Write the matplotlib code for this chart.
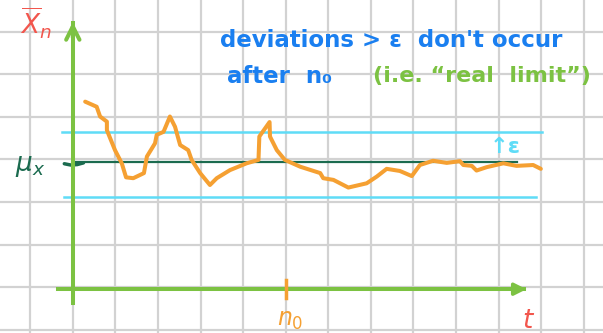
import matplotlib
matplotlib.use("Agg")
import matplotlib.pyplot as plt

# sketch data, in grid cells (one cell = one square of the paper)
t_vals = [0.29, 0.56, 0.64, 0.80, 0.80, 0.99, 1.15, 1.25, 1.42, 1.67, 1.74, 1.93,
          1.97, 2.13, 2.28, 2.40, 2.52, 2.71, 2.79, 2.99, 3.22, 3.38, 3.69, 4.08,
          4.36, 4.38, 4.62, 4.63, 4.79, 4.98, 5.34, 5.81, 5.88, 6.12, 6.47, 6.90,
          7.14, 7.37, 7.68, 7.96, 8.15, 8.46, 8.78, 9.09, 9.17, 9.37, 9.48, 9.72,
          10.11, 10.42, 10.81, 10.99]
xbar_vals = [4.36, 4.24, 4.01, 3.89, 3.69, 3.22, 2.91, 2.58, 2.56, 2.68, 3.07, 3.38,
             3.58, 3.65, 4.01, 3.77, 3.34, 3.22, 2.99, 2.68, 2.40, 2.56, 2.75, 2.91,
             2.99, 3.54, 3.88, 3.54, 3.22, 2.99, 2.83, 2.68, 2.56, 2.52, 2.34, 2.44,
             2.60, 2.78, 2.73, 2.61, 2.87, 2.97, 2.92, 2.96, 2.87, 2.85, 2.74, 2.82,
             2.91, 2.85, 2.87, 2.78]

mu = 2.95
eps_upper, eps_lower = 3.64, 2.11
n0 = 5.01

GREEN = "#7cc242"
CYAN = "#5fdcf7"
DARK = "#1b6b4f"
ORANGE = "#f5a032"
BLUE = "#1a7ff0"
RED = "#f2564d"

fig = plt.figure(figsize=(6.03, 3.33), dpi=100)
ax = fig.add_axes([0, 0, 1, 1])
ax.set_xlim(-1.71, 12.45)
ax.set_ylim(-1.08, 6.75)
ax.set_xticks(range(-1, 13))
ax.set_yticks(range(-1, 7))
ax.grid(True, color="#d2d2d2", lw=1.6)
ax.tick_params(length=0, labelbottom=False, labelleft=False)
for s in ax.spines.values():
    s.set_visible(False)

# epsilon band and limit
ax.plot([-0.25, 11.01], [eps_upper, eps_upper], color=CYAN, lw=1.8)
ax.plot([-0.20, 10.88], [eps_lower, eps_lower], color=CYAN, lw=1.8)
ax.plot([0, 10.42], [mu, mu], color=DARK, lw=1.6)
ax.plot([-0.2, -0.05, 0.1, 0.25], [2.90, 2.87, 2.88, 2.92], color=DARK, lw=2.5,
        solid_capstyle="round")

# axes arrows
ax.plot([0, 0], [-0.37, 6.2], color=GREEN, lw=2.9)
ax.plot([-0.35, 10.6], [-0.05, -0.05], color=GREEN, lw=2.9)
ax.annotate("", xy=(0, 6.3), xytext=(0, 5.8),
            arrowprops=dict(arrowstyle="->", color=GREEN, lw=2.9, mutation_scale=24))
ax.annotate("", xy=(10.72, -0.05), xytext=(10.3, -0.05),
            arrowprops=dict(arrowstyle="-|>", color=GREEN, lw=2.5, mutation_scale=18))

# sequence
ax.plot(t_vals, xbar_vals, color=ORANGE, lw=2.9, solid_joinstyle="round",
        solid_capstyle="round")
ax.plot([n0, n0], [-0.26, 0.16], color=ORANGE, lw=2.5)

# labels
ax.text(-0.87, 6.2, r"$\overline{X}_n$", color=RED, fontsize=19, ha="center", va="center")
ax.text(-1.0, 2.85, r"$\mu_x$", color=DARK, fontsize=19, ha="center", va="center")
ax.text(n0 + 0.1, -0.78, r"$n_0$", color=ORANGE, fontsize=17, ha="center", va="center")
ax.text(10.7, -0.8, r"$t$", color=RED, fontsize=19, ha="center", va="center")
ax.text(10.15, 3.3, "↑ε", color=CYAN, fontsize=16, fontweight="bold", ha="center", va="center")

ax.text(3.45, 5.8, "deviations > ε  don't occur", color=BLUE, fontsize=16.5,
        fontweight="bold", ha="left", va="center")
ax.text(3.62, 4.94, "after  n₀", color=BLUE, fontsize=16.5, fontweight="bold",
        ha="left", va="center")
ax.text(7.05, 4.97, "(i.e. “real  limit”)", color=GREEN, fontsize=16,
        fontweight="bold", ha="left", va="center")

fig.savefig("out.png", dpi=100)
